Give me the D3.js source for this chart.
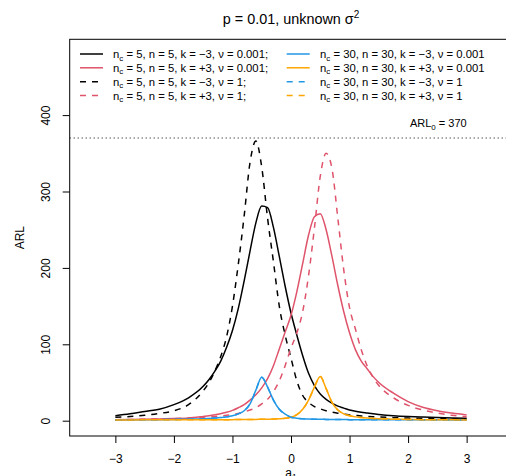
<!DOCTYPE html>
<html><head><meta charset="utf-8">
<script src="https://cdn.jsdelivr.net/npm/d3@7"></script>
<style>
body{margin:0;background:#fff}
svg{display:block}
text{font-family:"Liberation Sans",Arial,Helvetica,sans-serif;fill:#000}
</style>
</head><body>
<svg id="c" width="506" height="476"></svg>
<script>
// ---------------- data ----------------
const aGrid = [-3,-2.75,-2.5,-2.25,-2,-1.75,-1.5,-1.4,-1.3,-1.2,-1.1,-1,-0.9,-0.8,-0.7,-0.6,-0.5,-0.4,-0.3,-0.2,-0.1,0,0.1,0.2,0.3,0.4,0.5,0.6,0.7,0.8,0.9,1,1.1,1.2,1.3,1.4,1.5,1.75,2,2.25,2.5,2.75,3];

const arlN5kMinusV0001 = [6.5,9,12,15,21,30,45,54,65,78,96,118,147,183,222,259,281,279,253,215,176,141,112,85,62,46,35,28,23,19,16.5,14,12.3,11,10,9,8.2,6.6,5.5,4.7,4.1,3.6,3.2];
const arlN5kPlusV0001  = [1.4,1.6,1.9,2.3,2.8,3.6,5.6,6.5,7.7,9.2,11,13.5,17,21,27,34,43,55,72,94,116,138,169,206,243,267,271,250,215,177,143,115,93,78,68,58,50,36,25,17.5,13,10,7.5];
const arlN5kMinusV1    = [4.5,5.5,7,9.5,13,21,39,50,65,84,110,150,205,268,338,366,332,265,208,150,112,82,52,33,24,18.5,15.5,13,11.3,9.8,8.6,7.6,6.9,6.2,5.7,5.2,4.8,4,3.4,3,2.6,2.3,2];
const arlN5kPlusV1     = [1.4,1.6,1.9,2.3,2.8,3.5,4.6,5,5.5,6.2,7,8,9.4,11.5,14,17,22,28,38,52,72,95,115,143,190,252,320,350,330,265,198,148,120,93,72,57,46,30,20,14,10,7,5.2];
const arlN30kMinusV0001 = [1,1.1,1.2,1.4,1.6,2,2.5,2.9,3.4,4.1,5,6.5,9,13,22,40,57,44,27,15,8.5,4.5,3.2,2.6,2.2,2,1.8,1.7,1.6,1.5,1.45,1.4,1.35,1.3,1.28,1.25,1.22,1.18,1.15,1.12,1.1,1.08,1.05];
const arlN30kPlusV0001  = [1.05,1.08,1.1,1.12,1.15,1.18,1.22,1.25,1.28,1.3,1.35,1.4,1.45,1.5,1.6,1.7,1.8,2,2.2,2.6,3.2,4.5,8,15,27,44,58,42,24,14,9,6.5,5,4.1,3.4,2.9,2.5,2,1.6,1.4,1.2,1.1,1];
const arlN30kMinusV1 = [1,1.1,1.2,1.4,1.6,2,2.5,2.9,3.4,4.1,5,6.5,9,13,22,40,57,44,27,15,8.5,4.5,3.2,2.6,2.2,2,1.8,1.7,1.6,1.5,1.45,1.4,1.35,1.3,1.28,1.25,1.22,1.18,1.15,1.12,1.1,1.08,1.05];
const arlN30kPlusV1  = [1.05,1.08,1.1,1.12,1.15,1.18,1.22,1.25,1.28,1.3,1.35,1.4,1.45,1.5,1.6,1.7,1.8,2,2.2,2.6,3.2,4.5,8,15,27,44,58,42,24,14,9,6.5,5,4.1,3.4,2.9,2.5,2,1.6,1.4,1.2,1.1,1];

const legendNc = [5,5,5,5,30,30,30,30];
const legendN  = [5,5,5,5,30,30,30,30];
const legendK  = ["−3","+3","−3","+3","−3","+3","−3","+3"];
const legendV  = ["0.001","0.001","1","1","0.001","0.001","1","1"];
const legendSep = [";",";",";",";","","","",""];

const xTicks = [-3,-2,-1,0,1,2,3];
const yTicks = [0,100,200,300,400];
const arl0 = 370;

// ---------------- styling ----------------
const seriesValues = [arlN5kMinusV0001, arlN5kPlusV0001, arlN5kMinusV1, arlN5kPlusV1,
                      arlN30kMinusV0001, arlN30kPlusV0001, arlN30kMinusV1, arlN30kPlusV1];
const colors = ["#000000","#DF536B","#000000","#DF536B","#2297E6","#FFA500","#2297E6","#FFA500"];
const dashed = [false,false,true,true,false,false,true,true];

const svg = d3.select("#c");
const plotLeft = 69.7, plotRight = 512.3, plotTop = 39.3, plotBottom = 436;
const x = d3.scaleLinear().domain([-3.78, 3.78]).range([plotLeft, plotRight]);
const y = d3.scaleLinear().domain([0, 400]).range([420.7, 115.1]);

svg.append("defs").append("clipPath").attr("id","clip")
  .append("rect").attr("x",plotLeft).attr("y",plotTop)
  .attr("width",plotRight-plotLeft).attr("height",plotBottom-plotTop);

const line = d3.line().x(d=>x(d[0])).y(d=>y(d[1])).curve(d3.curveMonotoneX);
const g = svg.append("g").attr("clip-path","url(#clip)");

// ARL0 reference line
g.append("line").attr("x1",plotLeft).attr("x2",plotRight)
  .attr("y1",y(arl0)).attr("y2",y(arl0))
  .attr("stroke","#000").attr("stroke-width",1).attr("stroke-dasharray","1,3");

seriesValues.forEach((vals,i)=>{
  g.append("path").datum(aGrid.map((a,j)=>[a,vals[j]]))
    .attr("d",line).attr("fill","none")
    .attr("stroke",colors[i]).attr("stroke-width",1.5)
    .attr("stroke-dasharray",dashed[i]?"6,6":null);
});

// box
svg.append("rect").attr("x",plotLeft).attr("y",plotTop)
  .attr("width",plotRight-plotLeft).attr("height",plotBottom-plotTop)
  .attr("fill","none").attr("stroke","#000").attr("stroke-width",1);

// axes
const fmt = d => d<0 ? "−"+Math.abs(d) : String(d);
const xa = svg.append("g").attr("transform",`translate(0,${plotBottom})`)
  .call(d3.axisBottom(x).tickValues(xTicks).tickSize(7).tickSizeOuter(0).tickFormat(fmt));
xa.select(".domain").remove();
xa.selectAll("line").attr("stroke","#000");
xa.selectAll("text").attr("font-size",12).attr("font-family",null).attr("y",27).attr("dy",null);

const ya = svg.append("g").attr("transform",`translate(${plotLeft},0)`)
  .call(d3.axisLeft(y).tickValues(yTicks).tickSize(7).tickSizeOuter(0));
ya.select(".domain").remove();
ya.selectAll("line").attr("stroke","#000");
ya.selectAll("text").attr("font-size",12).attr("font-family",null)
  .attr("x",null).attr("dy",null).attr("text-anchor","middle")
  .attr("transform","translate(-19.2,0) rotate(-90)");

// axis titles
svg.append("text").attr("transform","translate(24,237.7) rotate(-90)")
  .attr("text-anchor","middle").attr("font-size",12).text("ARL");
const xl = svg.append("text").attr("x",x(0)).attr("y",477).attr("text-anchor","middle").attr("font-size",12);
xl.append("tspan").text("a");
xl.append("tspan").attr("font-size",8.5).attr("dy",3).text("1");

// title
const tt = svg.append("text").attr("x",(plotLeft+plotRight)/2).attr("y",24)
  .attr("text-anchor","middle").attr("font-size",14.4);
tt.append("tspan").text("p = 0.01, unknown σ");
tt.append("tspan").attr("font-size",10).attr("dy",-6).text("2");

// ARL0 label
const al = svg.append("text").attr("x",x(3)).attr("y",127).attr("text-anchor","end").attr("font-size",11);
al.append("tspan").text("ARL");
al.append("tspan").attr("font-size",8).attr("dy",2.5).text("0");
al.append("tspan").attr("dy",-2.5).text(" = " + arl0);

// legend
const rowY = [54, 67.8, 81.7, 95.6];
const colLineX = [80, 286.7];
const colTextX = [113, 320];
const lg = svg.append("g");
legendNc.forEach((nc,i)=>{
  const col = Math.floor(i/4), row = i%4;
  lg.append("line").attr("x1",colLineX[col]).attr("x2",colLineX[col]+23)
    .attr("y1",rowY[row]).attr("y2",rowY[row])
    .attr("stroke",colors[i]).attr("stroke-width",1.5)
    .attr("stroke-dasharray",dashed[i]?"6,6":null);
  const t = lg.append("text").attr("x",colTextX[col]).attr("y",rowY[row]+4).attr("font-size",11.3);
  t.append("tspan").text("n");
  t.append("tspan").attr("font-size",8).attr("dy",2.5).text("c");
  t.append("tspan").attr("dy",-2.5).text(` = ${nc}, n = ${legendN[i]}, k = ${legendK[i]}, ν = ${legendV[i]}${legendSep[i]}`);
});
</script>
</body></html>
